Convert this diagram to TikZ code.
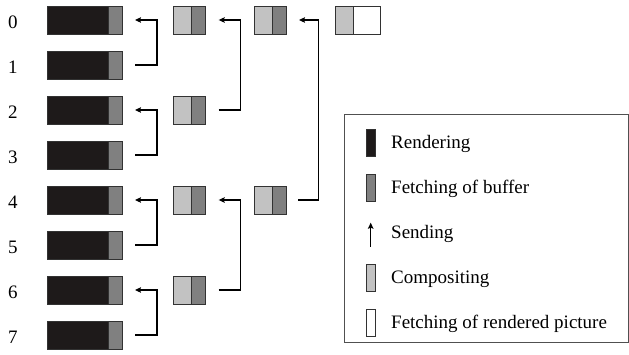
\documentclass[tikz,border=0pt]{standalone}
\usepackage{fontspec}
\setmainfont{Liberation Serif}
\usetikzlibrary{arrows.meta}
\definecolor{rendcol}{RGB}{30,26,26}
\definecolor{fetchcol}{RGB}{128,128,128}
\definecolor{compcol}{RGB}{194,194,194}
\definecolor{edgecol}{RGB}{50,50,50}
\definecolor{legendcol}{RGB}{80,80,80}
\begin{document}
\begin{tikzpicture}[x=1pt,y=-1pt,
  part/.style={draw=edgecol, line width=0.7pt, inner sep=0pt, outer sep=0pt,
               minimum height=28pt, anchor=west},
  rend/.style={part, fill=rendcol, minimum width=61.4pt},
  fetch/.style={part, fill=fetchcol, minimum width=13.3pt},
  comp/.style={part, fill=compcol, minimum width=18pt},
  fetchb/.style={part, fill=fetchcol, minimum width=14pt},
  pict/.style={part, fill=white, minimum width=27pt},
  digit/.style={anchor=base, inner sep=0pt, font=\fontsize{19}{21}\selectfont},
  send/.style={line width=1.1pt, -{Stealth[length=6pt,width=5.5pt,inset=1pt]}},
  lgbar/.style={draw=edgecol, line width=0.7pt, inner sep=0pt,
                minimum width=9.4pt, minimum height=27pt},
  lgtext/.style={anchor=base west, inner sep=0pt, font=\fontsize{19}{21}\selectfont},
  legendbox/.style={draw=legendcol, line width=0.8pt, inner sep=0pt,
                    minimum width=284.7pt, minimum height=228pt}]
\useasboundingbox (0,0) rectangle (629,354);

% rendering nodes with their buffer fetch
\foreach \i in {0,...,7} {
  \node[rend] (r\i) at (47.3, 20+45*\i) {};
  \node[fetch] (f\i) at (r\i.east) {};
  \node[digit] (d\i) at (13, 28.3+45*\i) {\i};
}

% first compositing stage
\foreach \i in {0,2,4,6} {
  \node[comp] (c\i) at (173, 20+45*\i) {};
  \node[fetchb] (cf\i) at (c\i.east) {};
}

% second compositing stage
\foreach \i in {0,4} {
  \node[comp] (e\i) at (254, 20+45*\i) {};
  \node[fetchb] (ef\i) at (e\i.east) {};
}

% final compositing and picture fetch
\node[comp] (g0) at (335, 20) {};
\node[pict] (gw0) at (g0.east) {};

% sending between neighbours
\foreach \i in {1,3,5,7} {
  \pgfmathtruncatemacro\j{\i-1}
  \draw[send] ([xshift=13pt]f\i.east) -- ++(22,0) |- ([xshift=13pt]f\j.east);
}
\draw[send] ([xshift=13.7pt]cf2.east) -- ++(21.6,0) |- ([xshift=13.7pt]cf0.east);
\draw[send] ([xshift=13.7pt]cf6.east) -- ++(21.6,0) |- ([xshift=13.7pt]cf4.east);
\draw[send] ([xshift=12pt]ef4.east) -- ++(20.3,0) |- ([xshift=13pt]ef0.east);

% legend
\node[legendbox] (legend) at (486.35, 228.3) {};
\node[lgbar, fill=rendcol] (k1) at (371, 143.3) {};
\node[lgbar, fill=fetchcol] (k2) at (371, 188) {};
\coordinate (s0) at (370.7, 246.7);
\coordinate (s1) at (370.7, 222.7);
\draw[send] (s0) -- (s1);
\node[lgbar, fill=compcol] (k4) at (371, 278) {};
\node[lgbar, fill=white] (k5) at (371, 322.7) {};
\node[lgtext] (l1) at (391, 148.3) {Rendering};
\node[lgtext] (l2) at (391, 193.3) {Fetching of buffer};
\node[lgtext] (l3) at (391, 238.3) {Sending};
\node[lgtext] (l4) at (391, 283.3) {Compositing};
\node[lgtext] (l5) at (391, 328.3) {Fetching of rendered picture};
\end{tikzpicture}
\end{document}
